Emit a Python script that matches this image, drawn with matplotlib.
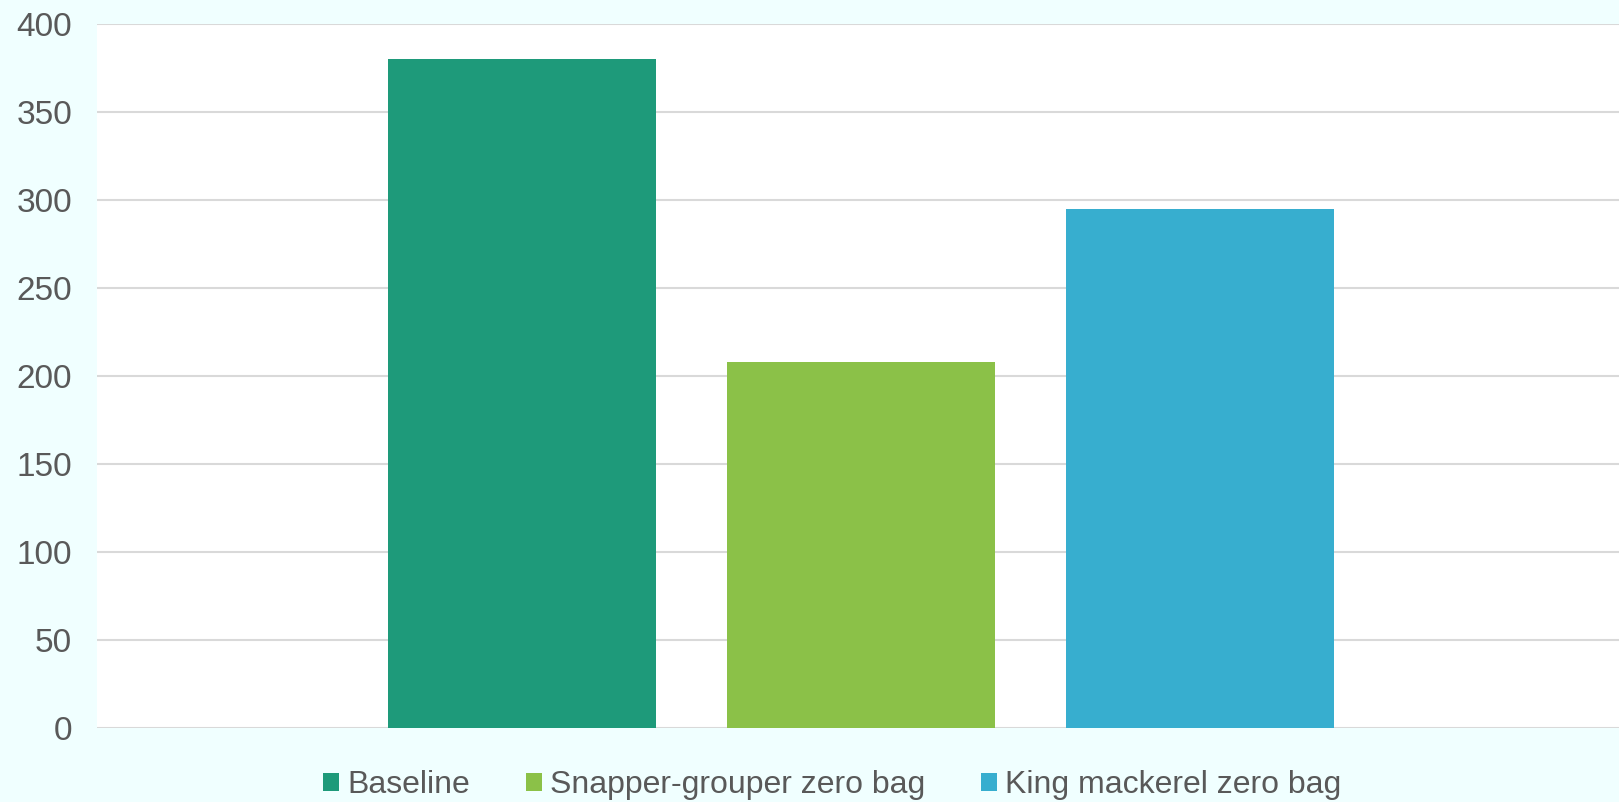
import matplotlib.pyplot as plt
from matplotlib.patches import Patch

plt.rcParams['font.family'] = ['Liberation Sans', 'DejaVu Sans']

# data
labels = ["Baseline", "Snapper-grouper zero bag", "King mackerel zero bag"]
values = [380, 208, 295]
colors = ["#1E9A7A", "#8BC148", "#37AECF"]
yticks = [0, 50, 100, 150, 200, 250, 300, 350, 400]

bg = "#F0FFFF"
grey = "#595959"

fig = plt.figure(figsize=(16.19, 8.02), dpi=100, facecolor=bg)
ax = fig.add_axes([0.06, 0.092, 0.94, 0.878])
ax.set_facecolor("white")

x = list(range(len(values)))
ax.bar(x, values, width=0.79, color=colors, zorder=3)

ax.set_xlim(-1.254, 3.236)
ax.set_ylim(0, 400)
ax.set_yticks(yticks)
ax.set_xticks([])
ax.tick_params(axis="y", length=0, pad=18, labelsize=24, labelcolor=grey)
ax.grid(axis="y", color="#D9D9D9", linewidth=1.5, zorder=0)
ax.set_axisbelow(True)
for s in ax.spines.values():
    s.set_visible(False)

handles = [Patch(facecolor=c, edgecolor="none") for c in colors]
leg = ax.legend(handles, labels, loc="center", bbox_to_anchor=(0.483, -0.081),
                ncol=3, frameon=False, fontsize=23, labelcolor=grey,
                handlelength=0.5, handleheight=0.5, handletextpad=0.25,
                columnspacing=1.75)

fig.savefig("out.png", dpi=100, facecolor=bg)
